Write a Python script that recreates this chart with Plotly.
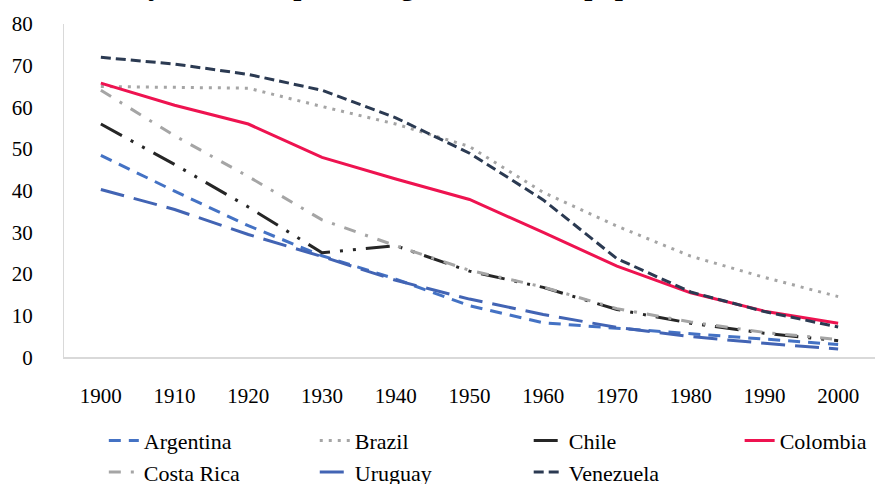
import plotly.graph_objects as go

# Census decades on the horizontal axis
decades = ["1900", "1910", "1920", "1930", "1940", "1950",
           "1960", "1970", "1980", "1990", "2000"]

# Illiteracy, % of adult population, by country
argentina = [48.5, 39.9, 31.6, 24.4, 18.8, 12.4, 8.3, 7.0, 5.6, 4.3, 3.1]
brazil = [65.0, 64.8, 64.6, 60.2, 56.0, 50.6, 39.6, 31.5, 24.3, 19.2, 14.6]
chile = [56.0, 46.3, 36.1, 25.1, 26.8, 20.7, 16.8, 11.5, 8.2, 5.8, 4.0]
colombia = [65.8, 60.5, 56.0, 48.0, 42.8, 37.9, 30.0, 21.9, 15.5, 11.1, 8.2]
costa_rica = [64.1, 53.2, 43.4, 33.0, 26.8, 20.9, 16.9, 11.7, 8.5, 6.0, 4.3]
uruguay = [40.3, 35.5, 29.5, 24.2, 18.5, 14.0, 10.3, 7.2, 5.0, 3.4, 2.0]
venezuela = [72.0, 70.4, 67.9, 64.1, 57.5, 49.0, 37.8, 23.7, 15.7, 11.0, 7.3]

y_ticks = [0, 10, 20, 30, 40, 50, 60, 70, 80]

# name, values, colour, dash pattern, legend column
series = [
    ("Argentina", argentina, "#4472C4", "12px,8px", "legend"),
    ("Brazil", brazil, "#A5A5A5", "3px,6px", "legend2"),
    ("Chile", chile, "#262626", "24px,10px,3px,10px,3px,10px", "legend3"),
    ("Colombia", colombia, "#EE1350", "solid", "legend4"),
    ("Costa Rica", costa_rica, "#A5A5A5", "12px,10px,3px,10px", "legend"),
    ("Uruguay", uruguay, "#4264B4", "24px,10px", "legend2"),
    ("Venezuela", venezuela, "#2B3A52", "10px,5px", "legend3"),
]

FONT = "Liberation Serif"

fig = go.Figure()
for name, values, color, dash, leg in series:
    fig.add_trace(go.Scatter(
        x=decades, y=values, name=name, mode="lines", legend=leg,
        line=dict(color=color, width=3, dash=dash),
    ))

# Title runs off the top edge of the page
fig.add_annotation(
    text="<b>Illiteracy rates as a percentage of the adult population</b>",
    xref="paper", yref="paper", x=-0.02, y=1.062,
    xanchor="left", yanchor="bottom", showarrow=False,
    font=dict(family=FONT, size=29, color="#000000"),
)


def legend_column(x):
    # one vertical legend per column of the two-row key below the axis
    return dict(
        orientation="v", x=x, xref="paper", xanchor="left",
        y=0.133, yref="container", yanchor="top",
        font=dict(family=FONT, size=22, color="#000000"),
        bgcolor="rgba(0,0,0,0)", itemwidth=30, borderwidth=0,
    )


fig.update_layout(
    width=887, height=484,
    margin=dict(l=60, r=12, t=24, b=126),
    paper_bgcolor="white", plot_bgcolor="white",
    font=dict(family=FONT, size=21, color="#000000"),
    showlegend=True,
    legend=legend_column(0.0491),
    legend2=legend_column(0.3092),
    legend3=legend_column(0.5730),
    legend4=legend_column(0.8331),
    xaxis=dict(
        type="category", range=[-0.5, 10.5],
        showgrid=False, zeroline=False,
        showline=True, linecolor="#D9D9D9", linewidth=2,
        ticks="", ticklabelstandoff=18,
        tickfont=dict(family=FONT, size=21, color="#000000"),
    ),
    yaxis=dict(
        range=[0, 80], tickvals=y_ticks,
        showgrid=False, zeroline=False,
        showline=True, linecolor="#D9D9D9", linewidth=1,
        ticks="", ticklabelstandoff=26,
        tickfont=dict(family=FONT, size=21, color="#000000"),
    ),
)

fig.write_html("out.html")
